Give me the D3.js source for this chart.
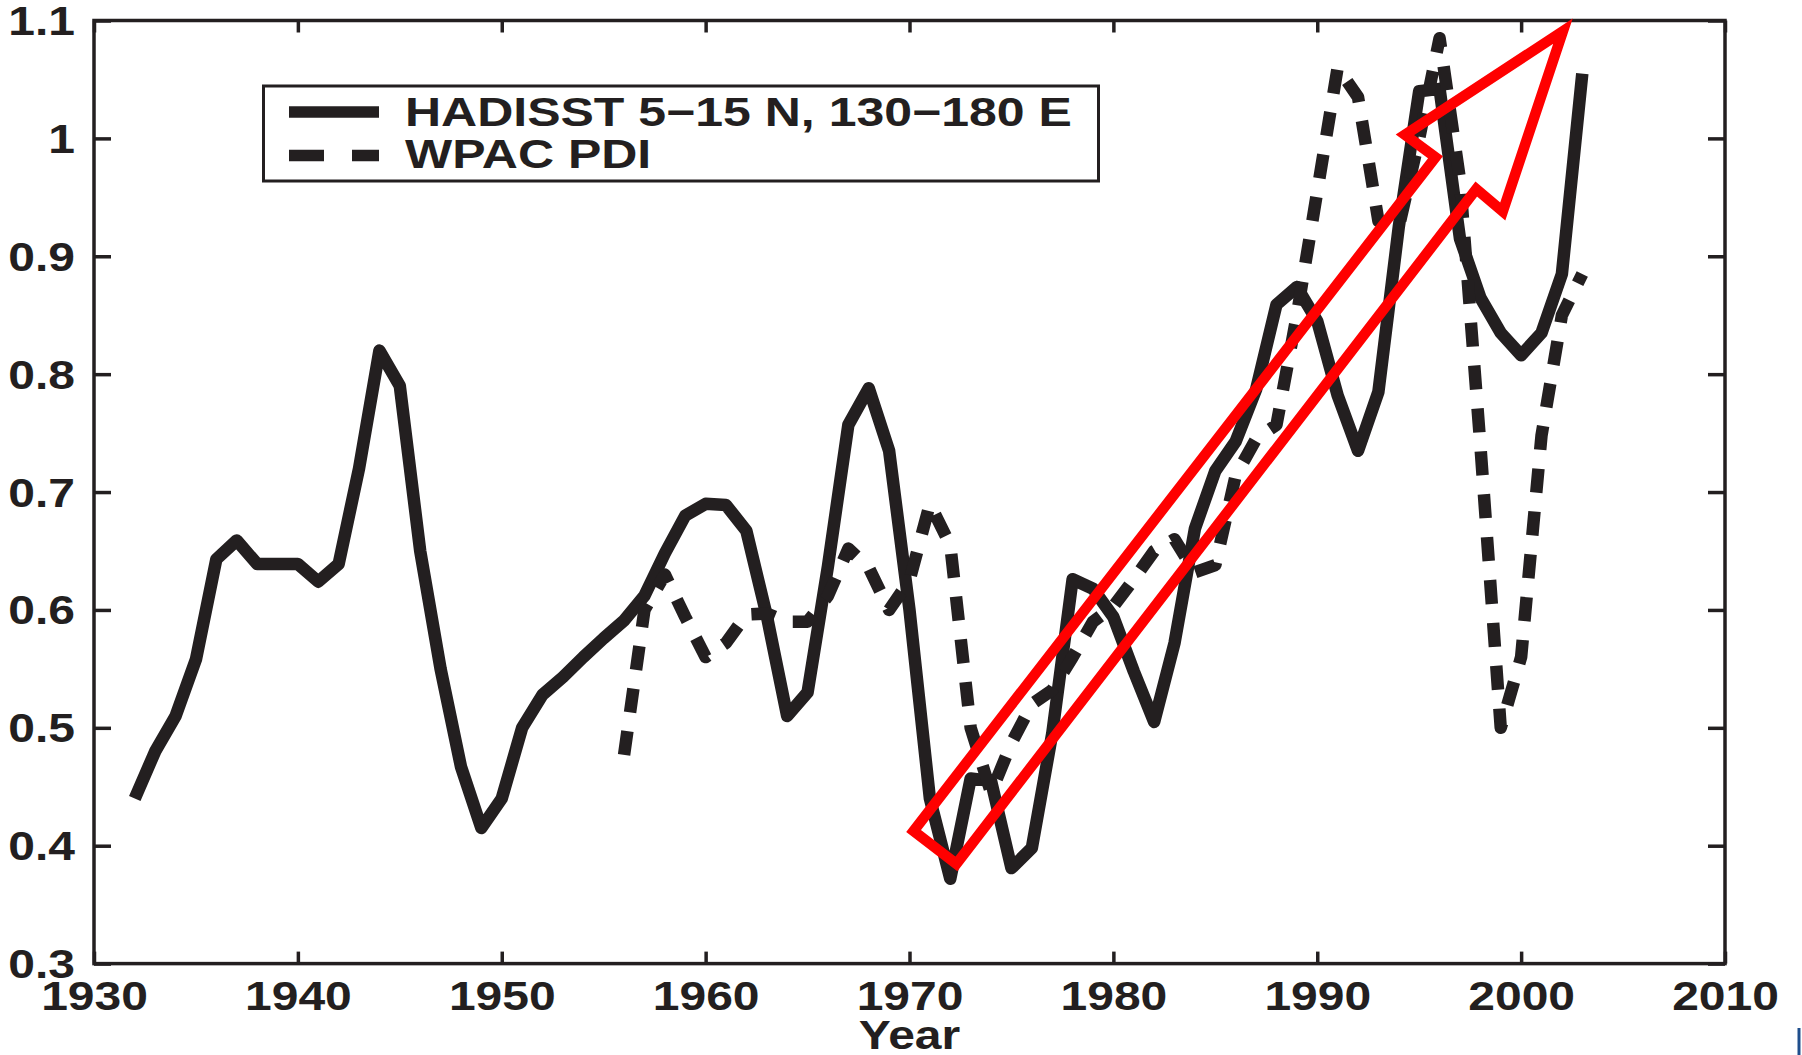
<!DOCTYPE html>
<html>
<head>
<meta charset="utf-8">
<script src="https://cdn.jsdelivr.net/npm/d3@7"></script>
<style>
  html, body { margin: 0; padding: 0; background: #ffffff; }
  svg { display: block; }
  text { font-family: "Liberation Sans", Arial, Helvetica, sans-serif; font-weight: bold; fill: #231f20; }
</style>
</head>
<body>
<svg id="chart" width="1802" height="1055"></svg>
<script>
// ---------------- data ----------------
const sstYears = [1932,1933,1934,1935,1936,1937,1938,1939,1940,1941,1942,1943,1944,1945,1946,1947,1948,1949,1950,
  1951,1952,1953,1954,1955,1956,1957,1958,1959,1960,1961,1962,1963,1964,1965,1966,1967,1968,1969,1970,
  1971,1972,1973,1974,1975,1976,1977,1978,1979,1980,1981,1982,1983,1984,1985,1986,1987,1988,1989,1990,
  1991,1992,1993,1994,1995,1996,1997,1998,1999,2000,2001,2002,2003];
const sstValues = [0.44,0.48,0.51,0.558,0.643,0.659,0.639,0.639,0.639,0.624,0.639,0.72,0.82,0.79,0.65,0.55,0.467,0.415,0.44,
  0.5,0.528,0.543,0.56,0.576,0.591,0.612,0.648,0.68,0.69,0.689,0.667,0.595,0.51,0.53,0.637,0.757,0.788,0.735,0.6,
  0.44,0.372,0.457,0.455,0.381,0.398,0.495,0.626,0.618,0.594,0.548,0.505,0.572,0.669,0.718,0.743,0.787,0.859,0.874,0.845,
  0.782,0.735,0.785,0.925,1.04,1.042,0.915,0.865,0.835,0.816,0.835,0.885,1.055];

const pdiYears = [1956,1957,1958,1959,1960,1961,1962,1963,1964,1965,1966,1967,1968,1969,1970,
  1971,1972,1973,1974,1975,1976,1977,1978,1979,1980,1981,1982,1983,1984,1985,1986,1987,1988,1989,1990,
  1991,1992,1993,1994,1995,1996,1997,1998,1999,2000,2001,2002,2003];
const pdiValues = [0.477,0.6,0.63,0.594,0.56,0.572,0.596,0.597,0.59,0.59,0.612,0.652,0.636,0.6,0.625,
  0.69,0.655,0.5,0.445,0.487,0.52,0.532,0.56,0.59,0.603,0.626,0.65,0.66,0.632,0.638,0.714,0.745,0.757,0.85,0.955,
  1.06,1.035,0.93,0.925,1.0,1.085,0.965,0.74,0.5,0.56,0.748,0.85,0.885];

// red annotation arrow outline (year, value)
const arrowYears  = [1970.2, 1995.8, 1994.3, 2002.05, 1999.1, 1997.8, 1972.3];
const arrowValues = [0.4125, 0.984, 1.003, 1.091, 0.938, 0.957, 0.3846];

const xTicks = [1930,1940,1950,1960,1970,1980,1990,2000,2010];
const xTickLabels = ["1930","1940","1950","1960","1970","1980","1990","2000","2010"];
const yTicks = [0.3,0.4,0.5,0.6,0.7,0.8,0.9,1.0,1.1];
const yTickLabels = ["0.3","0.4","0.5","0.6","0.7","0.8","0.9","1","1.1"];

const seriesNames = ["HADISST 5\u221215 N, 130\u2212180 E", "WPAC PDI"];
const xTitle = "Year";

// ---------------- layout ----------------
const ink = "#231f20";
const svg = d3.select("#chart");
const x = d3.scaleLinear().domain([1930, 2010]).range([94, 1725]);
const y = d3.scaleLinear().domain([0.3, 1.1]).range([963.6, 20.5]);
const stretch = 1.2;
const fontSize = 40;

const sst = sstYears.map((d, i) => ({year: d, v: sstValues[i]}));
const pdi = pdiYears.map((d, i) => ({year: d, v: pdiValues[i]}));
const line = d3.line().x(d => x(d.year)).y(d => y(d.v));

// data lines
svg.append("path").datum(sst)
  .attr("d", line).attr("fill", "none").attr("stroke", ink)
  .attr("stroke-width", 12.5).attr("stroke-linejoin", "round").attr("stroke-linecap", "butt");
svg.append("path").datum(pdi)
  .attr("d", line).attr("fill", "none").attr("stroke", ink)
  .attr("stroke-width", 12.5).attr("stroke-linejoin", "round").attr("stroke-linecap", "butt")
  .attr("stroke-dasharray", "24 19");

// axes (ticks inside, box on)
function styleAxis(g) {
  g.select(".domain").remove();
  g.selectAll(".tick line").attr("stroke", ink).attr("stroke-width", 3.5);
}
const gBottom = svg.append("g").attr("transform", `translate(0,${y(0.3)})`)
  .call(d3.axisBottom(x).tickValues(xTicks).tickSize(-12).tickFormat((d, i) => xTickLabels[i]));
styleAxis(gBottom);
gBottom.selectAll(".tick text")
  .attr("y", null).attr("dy", null)
  .attr("transform", `translate(0,46) scale(${stretch},1)`)
  .attr("font-size", fontSize).attr("fill", ink).attr("text-anchor", "middle");

const gTop = svg.append("g").attr("transform", `translate(0,${y(1.1)})`)
  .call(d3.axisTop(x).tickValues(xTicks).tickSize(-12).tickFormat(""));
styleAxis(gTop);

const gLeft = svg.append("g").attr("transform", `translate(${x(1930)},0)`)
  .call(d3.axisLeft(y).tickValues(yTicks).tickSize(-17).tickFormat((d, i) => yTickLabels[i]));
styleAxis(gLeft);
gLeft.selectAll(".tick text")
  .attr("x", null).attr("dy", null)
  .attr("transform", `translate(-19,14) scale(${stretch},1)`)
  .attr("font-size", fontSize).attr("fill", ink).attr("text-anchor", "end");

const gRight = svg.append("g").attr("transform", `translate(${x(2010)},0)`)
  .call(d3.axisRight(y).tickValues(yTicks).tickSize(-17).tickFormat(""));
styleAxis(gRight);

// frame
svg.append("rect")
  .attr("x", x(1930)).attr("y", y(1.1))
  .attr("width", x(2010) - x(1930)).attr("height", y(0.3) - y(1.1))
  .attr("fill", "none").attr("stroke", ink).attr("stroke-width", 3.5);

// x title
svg.append("text")
  .attr("transform", `translate(${(x(1930) + x(2010)) / 2},1049) scale(${stretch},1)`)
  .attr("text-anchor", "middle").attr("font-size", fontSize).text(xTitle);

// legend
const lg = svg.append("g");
lg.append("rect").attr("x", 263.5).attr("y", 86).attr("width", 835).attr("height", 95)
  .attr("fill", "#fff").attr("stroke", ink).attr("stroke-width", 3);
lg.append("line").attr("x1", 289).attr("x2", 379).attr("y1", 112).attr("y2", 112)
  .attr("stroke", ink).attr("stroke-width", 11.5);
lg.append("line").attr("x1", 289).attr("x2", 379).attr("y1", 155.5).attr("y2", 155.5)
  .attr("stroke", ink).attr("stroke-width", 11.5).attr("stroke-dasharray", "35 28");
lg.append("text").attr("transform", `translate(405,126) scale(1.25,1)`)
  .attr("font-size", fontSize).text(seriesNames[0]);
lg.append("text").attr("transform", `translate(405,168) scale(1.25,1)`)
  .attr("font-size", fontSize).text(seriesNames[1]);

// red arrow annotation
const arrowPts = arrowYears.map((d, i) => [x(d), y(arrowValues[i])]);
svg.append("path")
  .attr("d", d3.line()(arrowPts) + "Z")
  .attr("fill", "none").attr("stroke", "#ff0000").attr("stroke-width", 10.5)
  .attr("stroke-linejoin", "miter").attr("stroke-miterlimit", 10);

// small edge mark at bottom-right
svg.append("line").attr("x1", 1799).attr("x2", 1799).attr("y1", 1028).attr("y2", 1055)
  .attr("stroke", "#1f4e8c").attr("stroke-width", 3);
</script>
</body>
</html>
